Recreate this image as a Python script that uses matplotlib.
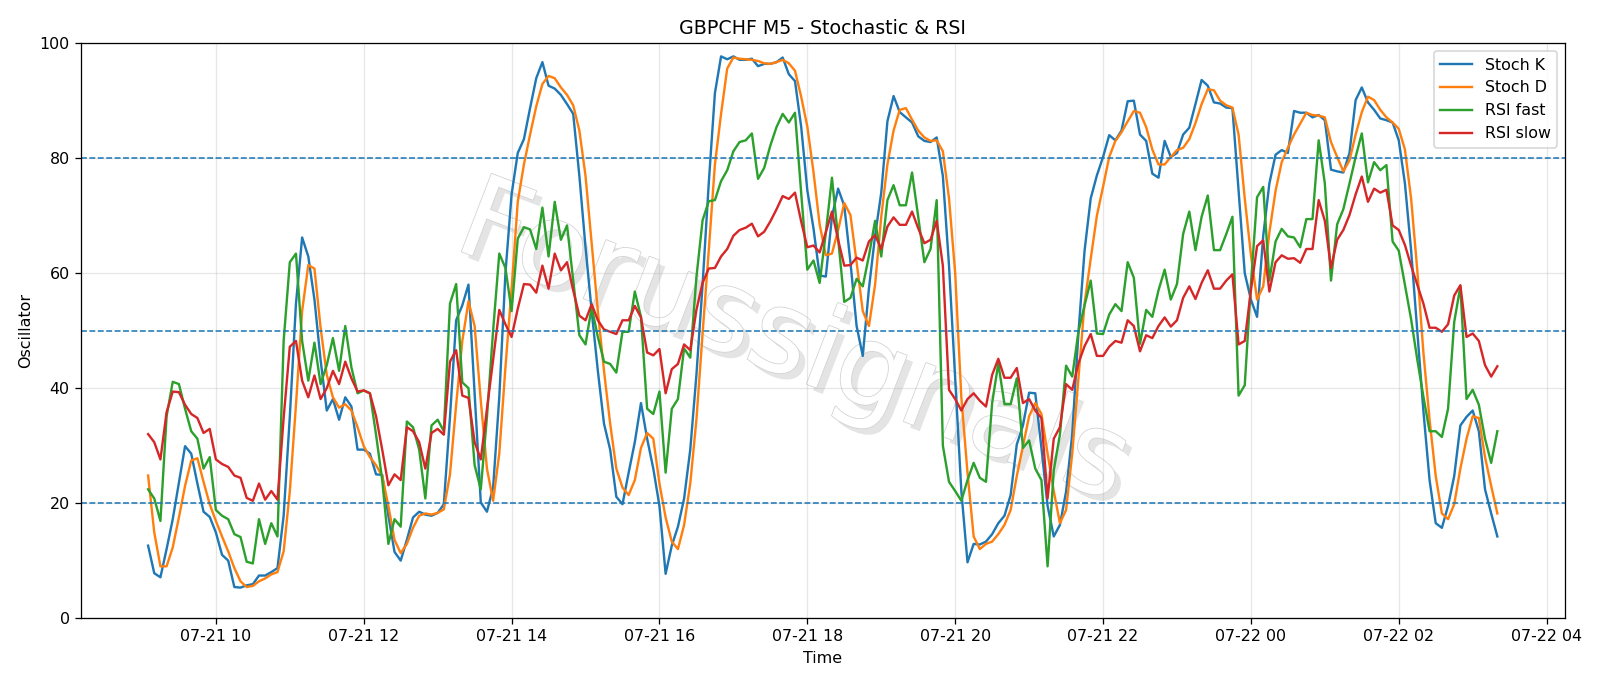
import numpy as np
import pandas as pd
import matplotlib
matplotlib.use("Agg")
import matplotlib.pyplot as plt
import matplotlib.dates as mdates
import matplotlib.patheffects as pe

# 5-minute bars, 07-21 09:05 -> 07-22 03:20
times = pd.date_range("2023-07-21 09:05", periods=220, freq="5min")

stoch_k = [12.6, 7.8, 7.1, 12, 17.2, 23.5, 29.9, 28.6, 23.4, 18.5,
           17.6, 14.9, 11, 10, 5.4, 5.3, 5.7, 5.9, 7.4, 7.4,
           8, 8.7, 17.8, 35, 54.7, 66.2, 62.9, 55.4, 44.9, 36.1,
           38.1, 34.5, 38.4, 36.8, 29.3, 29.3, 28.6, 25, 24.9, 17.8,
           11.5, 10, 13.6, 17.5, 18.5, 18, 17.8, 18.3, 19.8, 35,
           51.8, 54.4, 58, 39, 20.1, 18.5, 22.7, 38.4, 60, 73.7,
           80.9, 83.3, 88.7, 93.9, 96.7, 92.6, 92.1, 91, 89.4, 87.7,
           76.9, 64.5, 53.4, 43, 33.8, 29.3, 21.1, 19.8, 25.3, 30.6,
           37.4, 31.2, 26, 19.5, 7.7, 12.6, 15.9, 20.8, 29.3, 42.3,
           58, 75.6, 91.3, 97.7, 97.2, 97.7, 97.1, 97.1, 97.3, 96,
           96.4, 96.4, 96.7, 97.5, 94.6, 93.4, 85.5, 74.4, 67.8, 59.6,
           59.4, 69.8, 74.7, 71.7, 61.9, 50.8, 45.6, 57.3, 66.5, 74,
           86.4, 90.8, 88, 87.1, 86.2, 83.8, 83, 82.8, 83.6, 76.9,
           61.3, 41.7, 22.1, 9.7, 12.9, 12.8, 13.3, 14.6, 16.5, 17.8,
           21.4, 30.2, 33.5, 39.2, 39.1, 29.6, 19.5, 14.2, 16.2, 22,
           32, 49.5, 63.9, 73, 77, 80.2, 84, 83.1, 84.8, 89.9,
           90, 84.1, 83, 77.3, 76.6, 83, 80.2, 80.9, 84.1, 85.3,
           89.4, 93.6, 92.6, 89.7, 89.5, 88.8, 88.7, 74.3, 60, 55.4,
           52.4, 66.5, 75.6, 80.6, 81.4, 80.9, 88.2, 87.9, 87.9, 87.1,
           87.5, 86.6, 78, 77.7, 77.5, 80.9, 90.1, 92.3, 89.7, 88.4,
           86.9, 86.6, 86.2, 83.1, 75.6, 64, 50, 36, 24, 16.5,
           15.7, 19.5, 24.7, 33.5, 35, 36.1, 32.5, 22.4, 18.2, 14.2]

stoch_d = [24.8, 14.9, 9, 9, 12.3, 17.5, 23, 27.4, 27.8, 23.7,
           19.8, 16.9, 14.2, 11.6, 8.7, 6.4, 5.4, 5.6, 6.4, 6.9,
           7.6, 8, 11.6, 22, 37.1, 53.4, 61.4, 60.8, 50.5, 42.3,
           38.4, 36.6, 37.2, 36.1, 33.2, 29.9, 28, 26.6, 24.7, 19.5,
           13.6, 11.3, 12.9, 15.7, 17.8, 18.2, 18, 18.3, 18.9, 25,
           37.1, 48.2, 55.1, 50.8, 37.8, 26, 20.4, 28.6, 43.6, 57.3,
           72.4, 78.9, 84.1, 89, 92.9, 94.3, 93.9, 92.3, 91, 89.2,
           84.8, 76.9, 65.2, 53.4, 43, 33.8, 26, 22.7, 21.4, 24,
           29.6, 32.2, 31.2, 23.4, 17.5, 13.3, 12, 16.2, 23.4, 34.5,
           49.5, 63.9, 78.9, 87.7, 95.6, 97.5, 97.3, 97.2, 97.1, 96.9,
           96.5, 96.4, 96.7, 97.1, 96.5, 95.2, 90.7, 85.5, 77.6, 68.5,
           63.1, 63.4, 67.5, 72.2, 70.1, 61.9, 53.4, 50.8, 58, 69.8,
           78.9, 84.8, 88.4, 88.7, 86.7, 84.8, 83.6, 83, 83.1, 81.2,
           73, 60, 38.4, 25.3, 14.2, 12, 12.9, 13.3, 14.6, 16.2,
           18.8, 24.7, 29.9, 35.1, 37.4, 35.5, 28.6, 22.1, 16.5, 18.8,
           28.6, 41.7, 54.7, 62.5, 70, 75, 80.2, 83, 84.5, 86.4,
           88.2, 87.9, 85.4, 81.5, 78.9, 78.9, 80.2, 81.4, 81.8, 83.3,
           86.1, 89.4, 92, 91.8, 90, 89.2, 88.8, 84.1, 73, 63.2,
           55.4, 57.7, 67.1, 74.3, 79.3, 81.8, 84.1, 86, 87.9, 87.5,
           87.4, 87.1, 82.8, 80.2, 77.7, 79.6, 84.1, 88, 90.7, 90.1,
           88.4, 87.1, 86.2, 85.1, 81.5, 73, 60.6, 46.2, 34.5, 24.7,
           18.2, 17.2, 19.8, 26, 31.2, 35.1, 34.8, 28, 23, 18.2]

rsi_fast = [22.4, 20.8, 16.9, 35.1, 41.1, 40.7, 36.4, 32.5, 31.2, 26,
            28, 18.8, 17.8, 17.2, 14.6, 14.1, 9.8, 9.5, 17.2, 12.9,
            16.5, 14.2, 48.2, 61.9, 63.4, 48.2, 41.3, 47.9, 40.7, 44,
            48.7, 43, 50.8, 43.6, 39.1, 39.6, 39.1, 31.9, 24, 12.9,
            17.2, 15.9, 34.2, 33.2, 29.3, 20.8, 33.5, 34.5, 32.5, 54.7,
            58.1, 41, 40, 26.6, 22.4, 35, 50, 63.4, 60.9, 53.4,
            66, 68, 67.6, 64.2, 71.4, 62.9, 72.4, 65.8, 68.3, 58.7,
            49.2, 47.6, 54.1, 48.9, 44.6, 44.2, 42.7, 49.8, 49.8, 56.8,
            52.4, 36.4, 35.5, 39.4, 25.3, 36.4, 38.1, 46.9, 45.3, 59.3,
            69.2, 72.5, 72.7, 76, 77.9, 81.2, 82.8, 83.1, 84.3, 76.4,
            78.3, 82.2, 85.4, 87.7, 86.2, 87.9, 74, 60.6, 62.2, 58.3,
            67, 76.6, 66, 55, 55.7, 59, 57.7, 63, 69.1, 62.9,
            72.7, 75.3, 71.8, 71.8, 77.5, 69.8, 61.9, 64.2, 72.7, 30,
            23.7, 22.1, 20.4, 24, 27, 24.4, 23.7, 37.4, 44.3, 37.2,
            37.2, 41.7, 29.6, 30.9, 26, 24, 9, 25.7, 31.9, 43.9,
            42, 49.8, 54.4, 58.7, 49.5, 49.4, 52.8, 54.6, 53.4, 61.9,
            59.2, 47.7, 53.6, 52.4, 57, 60.6, 55.4, 58.1, 66.8, 70.7,
            64, 69.8, 73.5, 64, 64, 66.8, 69.8, 38.7, 40.5, 58,
            73.2, 75, 58.7, 65.5, 67.7, 66.4, 66.2, 64.5, 69.4, 69.4,
            83.1, 75.6, 58.7, 68.5, 71.1, 75.6, 80.2, 84.3, 75.8, 79.3,
            77.9, 78.8, 65.5, 63.9, 58, 52, 45, 38.5, 32.5, 32.5,
            31.5, 36.4, 51.5, 57.7, 38.1, 39.7, 37.1, 31.2, 27, 32.5]

rsi_slow = [32, 30.6, 27.6, 35.8, 39.4, 39.3, 37.1, 35.5, 34.8, 32.2,
            32.9, 27.6, 26.8, 26.3, 24.8, 24.4, 20.9, 20.4, 23.4, 20.6,
            22.1, 20.6, 34.8, 47.2, 48.2, 41.3, 38.4, 42.2, 38.1, 40,
            43, 40.7, 44.6, 41.7, 39.4, 39.6, 39.1, 35.1, 29.3, 23.1,
            25, 24, 33.2, 32.5, 30.6, 26, 32.2, 32.9, 31.9, 44.6,
            46.6, 38.7, 38.3, 30.6, 27.6, 36.4, 44.9, 53.6, 51.1, 48.9,
            53.8, 58.1, 58, 56.6, 61.3, 57.3, 63.4, 60.5, 61.9, 57,
            52.6, 51.8, 54.6, 51.8, 50.2, 49.8, 49.4, 51.8, 51.8, 54.3,
            52.3, 46.2, 45.7, 46.8, 39.1, 43.3, 44.2, 47.6, 46.6, 53.6,
            58.3, 60.8, 60.9, 62.9, 64.2, 66.5, 67.5, 67.9, 68.6, 66.4,
            67.2, 69, 71.1, 73.4, 72.9, 74, 69, 64.5, 64.8, 63.6,
            67.1, 70.7, 65.8, 61.3, 61.4, 62.7, 62.2, 65.5, 66.6, 64.2,
            68.1, 69.7, 68.4, 68.4, 70.7, 67.8, 65.2, 65.8, 69.1, 61.3,
            39.7, 38.1, 36.1, 38.1, 39.1, 37.8, 36.8, 42.3, 45.1, 41.8,
            41.8, 43.5, 37.4, 38.1, 36.1, 34.8, 20.8, 31.2, 33.2, 40.7,
            39.7, 44.3, 47.3, 49.4, 45.6, 45.6, 47.2, 48.2, 47.9, 51.8,
            50.8, 46.4, 49.2, 48.7, 50.8, 52.3, 50.7, 51.8, 55.7, 57.7,
            55.5, 58.3, 60.5, 57.3, 57.3, 58.7, 59.8, 47.6, 48.2, 57,
            64.7, 65.7, 56.8, 61.9, 63.1, 62.5, 62.6, 61.8, 64.2, 64.2,
            72.7, 69.1, 60.9, 65.8, 67.5, 70.1, 73.7, 76.8, 72.4, 74.7,
            74, 74.5, 68.3, 67.5, 64.9, 61.3, 58, 54.7, 50.5, 50.5,
            49.8, 51.1, 56.1, 57.9, 48.9, 49.5, 48.2, 44, 42, 43.8]

levels = [20, 50, 80]

fig = plt.figure(figsize=(14, 6.003))
ax = fig.add_axes([0.0504, 0.099, 0.9276, 0.838])

ax.plot(times, stoch_k, label="Stoch K")
ax.plot(times, stoch_d, label="Stoch D")
ax.plot(times, rsi_fast, label="RSI fast")
ax.plot(times, rsi_slow, label="RSI slow")

for lv in levels:
    ax.axhline(lv, color="tab:blue", linestyle="--", linewidth=1)

# watermark
ax.text(0.48, 0.475, "Forussignals", transform=ax.transAxes, fontsize=72,
        color="white", rotation=-21, ha="center", va="center", zorder=1,
        path_effects=[pe.SimplePatchShadow(offset=(4, -4), shadow_rgbFace="#a8a8a8", alpha=0.3),
                      pe.Stroke(linewidth=1.0, foreground="#d2d2d2"),
                      pe.Normal()])

ax.set_ylim(0, 100)
ax.xaxis.set_major_locator(mdates.HourLocator(interval=2))
ax.xaxis.set_major_formatter(mdates.DateFormatter("%m-%d %H"))
ax.grid(True, alpha=0.3)
ax.set_title("GBPCHF M5 - Stochastic & RSI")
ax.set_xlabel("Time")
ax.set_ylabel("Oscillator")
ax.legend(loc="upper right")

fig.savefig("out.png", dpi=1600 / 14)
